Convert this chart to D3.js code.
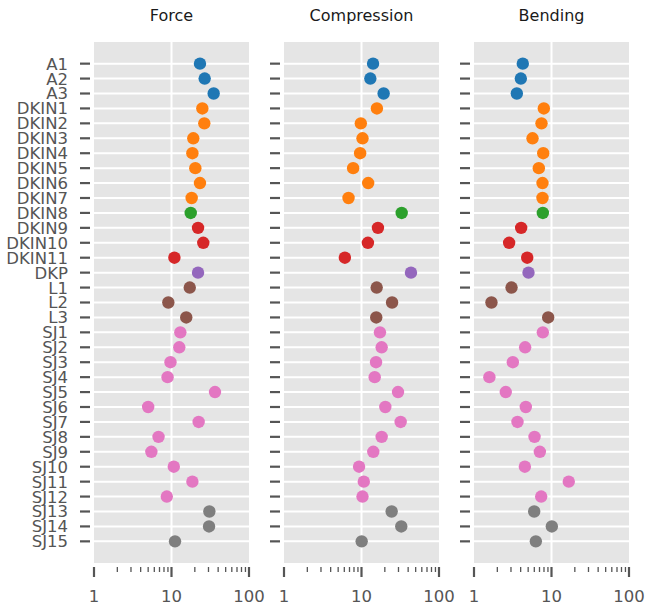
<!DOCTYPE html>
<html>
<head>
<meta charset="utf-8">
<script src="https://cdn.jsdelivr.net/npm/d3@7"></script>
<style>
  body { margin: 0; background: #fff; }
  svg { display: block; font-family: "DejaVu Sans", sans-serif; }
</style>
</head>
<body>
<svg id="chart" width="647" height="608"></svg>
<script>
const categories = ["A1","A2","A3","DKIN1","DKIN2","DKIN3","DKIN4","DKIN5","DKIN6","DKIN7","DKIN8","DKIN9","DKIN10","DKIN11","DKP","L1","L2","L3","SJ1","SJ2","SJ3","SJ4","SJ5","SJ6","SJ7","SJ8","SJ9","SJ10","SJ11","SJ12","SJ13","SJ14","SJ15"];
const groups = ["A","A","A","DKIN","DKIN","DKIN","DKIN","DKIN","DKIN","DKIN","DKIN8","DKIN9","DKIN9","DKIN9","DKP","L","L","L","SJ","SJ","SJ","SJ","SJ","SJ","SJ","SJ","SJ","SJ","SJ","SJ","SJ13","SJ13","SJ13"];
const panelTitles = ["Force","Compression","Bending"];
const force = [23.3,26.8,35,25,26.5,19.1,18.6,20.3,23.3,18.2,17.7,22,25.7,10.9,22,17.2,9.1,15.5,13,12.6,9.7,8.9,36.4,5.0,22.4,6.8,5.5,10.7,18.6,8.7,30.8,30.5,11.1];
const compression = [14.1,13,19.3,15.8,9.8,10.3,9.6,7.8,12.2,6.8,33,16.3,12.1,6.1,43.5,15.7,24.8,15.5,17.3,18.2,15.4,14.8,29.6,20.3,32,18.2,14.2,9.3,10.7,10.3,24.5,32.6,10.05];
const bending = [4.26,4.02,3.57,7.96,7.43,5.69,7.82,6.86,7.65,7.65,7.73,4.06,2.84,4.86,5.05,3.05,1.68,9.06,7.73,4.57,3.17,1.58,2.57,4.66,3.64,6.04,7.07,4.53,16.7,7.36,5.98,10.1,6.28];
const xTicks = [1,10,100];
const groupNames = ["A","DKIN","DKIN8","DKIN9","DKP","L","SJ","SJ13"];
const groupColors = ["#1f77b4","#ff7f0e","#2ca02c","#d62728","#9467bd","#8c564b","#e377c2","#7f7f7f"];

(function () {
const svg = d3.select("#chart");
const panelW = 155, gap = 35, left0 = 94, topY = 42, bottomY = 563;
const color = d3.scaleOrdinal().domain(groupNames).range(groupColors);
const y = d3.scalePoint().domain(categories).range([topY, bottomY]).padding(1.45);
const series = [force, compression, bending];
const textCol = "#555555";

series.forEach((vals, i) => {
  const x0 = left0 + i * (panelW + gap);
  const x = d3.scaleLog().domain([1, 100]).range([x0, x0 + panelW]);
  const g = svg.append("g");

  g.append("rect").attr("x", x0).attr("y", topY).attr("width", panelW).attr("height", bottomY - topY).attr("fill", "#e5e5e5");

  g.selectAll("line.hg").data(categories).enter().append("line")
    .attr("x1", x0).attr("x2", x0 + panelW)
    .attr("y1", d => y(d)).attr("y2", d => y(d))
    .attr("stroke", "#fff").attr("stroke-width", 2);
  g.append("line").attr("x1", x(10)).attr("x2", x(10)).attr("y1", topY).attr("y2", bottomY)
    .attr("stroke", "#fff").attr("stroke-width", 2);

  g.append("text").attr("x", x0 + panelW / 2).attr("y", 20.5).attr("text-anchor", "middle")
    .attr("font-size", 16).attr("fill", "#1a1a1a").text(panelTitles[i]);

  g.selectAll("line.yt").data(categories).enter().append("line")
    .attr("x1", x0 - 14).attr("x2", x0 - 4)
    .attr("y1", d => y(d)).attr("y2", d => y(d))
    .attr("stroke", "#555").attr("stroke-width", 2.2);
  if (i === 0) {
    g.selectAll("text.yl").data(categories).enter().append("text")
      .attr("x", 68).attr("y", d => y(d)).attr("dy", "0.36em")
      .attr("text-anchor", "end").attr("font-size", 16.5).attr("fill", textCol).text(d => d);
  }

  const ax = svg.append("g").attr("transform", "translate(0,567)");
  const minor = [];
  for (let d = 1; d < 100; d *= 10) for (let k = 2; k <= 9; k++) minor.push(d * k);
  ax.selectAll("line.mn").data(minor).enter().append("line")
    .attr("x1", d => x(d)).attr("x2", d => x(d)).attr("y1", 0).attr("y2", 5)
    .attr("stroke", "#555").attr("stroke-width", 1.3);
  ax.selectAll("line.mj").data(xTicks).enter().append("line")
    .attr("x1", d => x(d)).attr("x2", d => x(d)).attr("y1", 0).attr("y2", 10)
    .attr("stroke", "#555").attr("stroke-width", 2.2);
  ax.selectAll("text").data(xTicks).enter().append("text")
    .attr("x", d => x(d)).attr("y", 29).attr("dy", "0.36em").attr("text-anchor", "middle")
    .attr("font-size", 16.5).attr("fill", textCol).text(d => d);

  g.selectAll("circle").data(vals).enter().append("circle")
    .attr("cx", d => x(d)).attr("cy", (d, j) => y(categories[j]))
    .attr("r", 6.2).attr("fill", (d, j) => color(groups[j]));
});
})();
</script>
</body>
</html>
